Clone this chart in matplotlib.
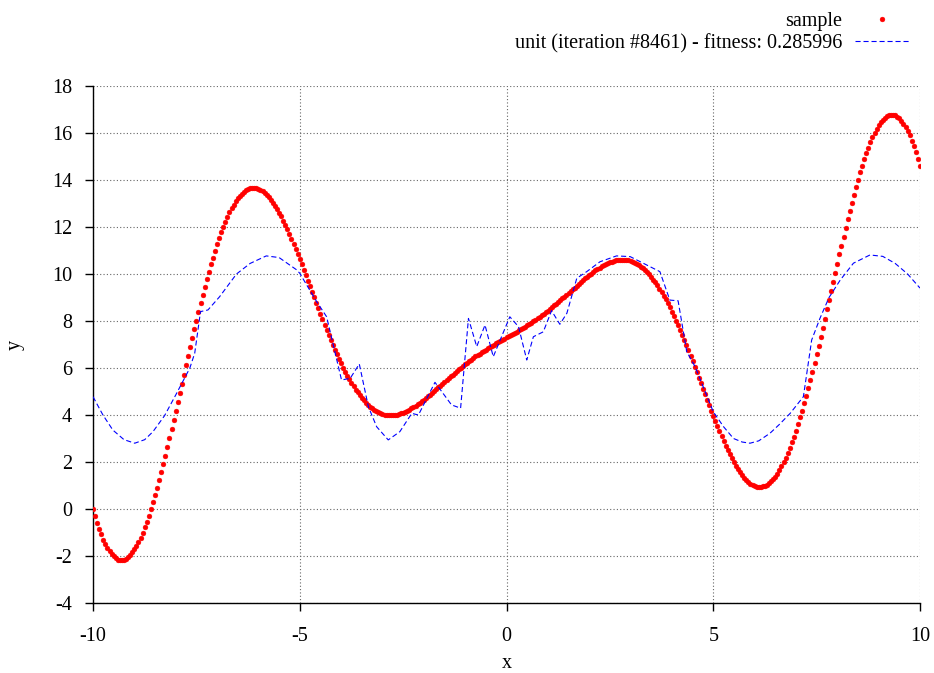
import numpy as np
import matplotlib
matplotlib.use("Agg")
import matplotlib.pyplot as plt

plt.rcParams['font.family'] = ['Liberation Serif', 'DejaVu Serif']
plt.rcParams['font.size'] = 14.5
plt.rcParams['axes.unicode_minus'] = False

# sample points (x step 0.05)
sample_x = np.round(np.arange(-200, 201) * 0.05, 2)
sample_y = [
    0.00, -0.31, -0.59, -0.85, -1.08, -1.30, -1.49, -1.66, -1.80, -1.93,
    -2.02, -2.10, -2.15, -2.17, -2.18, -2.16, -2.11, -2.05, -1.96, -1.85,
    -1.72, -1.57, -1.40, -1.22, -1.01, -0.78, -0.54, -0.28, -0.01, 0.28,
    0.59, 0.90, 1.23, 1.57, 1.91, 2.27, 2.64, 3.01, 3.39, 3.77,
    4.16, 4.55, 4.94, 5.33, 5.72, 6.11, 6.50, 6.89, 7.27, 7.66,
    8.02, 8.40, 8.75, 9.11, 9.44, 9.78, 10.09, 10.41, 10.70, 10.99,
    11.26, 11.52, 11.77, 12.00, 12.22, 12.43, 12.62, 12.79, 12.95, 13.09,
    13.22, 13.33, 13.42, 13.50, 13.57, 13.61, 13.64, 13.66, 13.66, 13.65,
    13.62, 13.58, 13.52, 13.45, 13.37, 13.27, 13.16, 13.04, 12.91, 12.76,
    12.61, 12.45, 12.27, 12.09, 11.90, 11.71, 11.50, 11.29, 11.08, 10.86,
    10.64, 10.41, 10.18, 9.95, 9.71, 9.48, 9.24, 9.01, 8.77, 8.54,
    8.31, 8.08, 7.85, 7.63, 7.41, 7.19, 6.98, 6.78, 6.58, 6.39,
    6.20, 6.02, 5.84, 5.68, 5.52, 5.37, 5.22, 5.08, 4.96, 4.84,
    4.72, 4.62, 4.52, 4.44, 4.36, 4.29, 4.22, 4.17, 4.12, 4.08,
    4.05, 4.02, 4.01, 4.00, 3.99, 3.99, 4.00, 4.02, 4.04, 4.07,
    4.10, 4.14, 4.18, 4.23, 4.28, 4.33, 4.39, 4.45, 4.51, 4.58,
    4.65, 4.72, 4.79, 4.87, 4.94, 5.02, 5.10, 5.18, 5.25, 5.33,
    5.41, 5.49, 5.57, 5.64, 5.72, 5.80, 5.87, 5.94, 6.02, 6.09,
    6.16, 6.23, 6.29, 6.36, 6.42, 6.49, 6.55, 6.61, 6.67, 6.72,
    6.78, 6.84, 6.89, 6.94, 7.00, 7.05, 7.10, 7.15, 7.20, 7.25,
    7.30, 7.35, 7.40, 7.45, 7.50, 7.55, 7.60, 7.66, 7.71, 7.76,
    7.82, 7.88, 7.93, 7.99, 8.05, 8.11, 8.18, 8.24, 8.31, 8.37,
    8.44, 8.51, 8.58, 8.66, 8.73, 8.80, 8.88, 8.96, 9.03, 9.11,
    9.19, 9.27, 9.35, 9.42, 9.50, 9.58, 9.66, 9.73, 9.81, 9.88,
    9.95, 10.02, 10.09, 10.15, 10.21, 10.27, 10.32, 10.37, 10.42, 10.46,
    10.50, 10.53, 10.56, 10.58, 10.60, 10.61, 10.61, 10.60, 10.59, 10.58,
    10.55, 10.52, 10.48, 10.43, 10.38, 10.31, 10.24, 10.16, 10.08, 9.98,
    9.88, 9.76, 9.64, 9.52, 9.38, 9.23, 9.08, 8.92, 8.76, 8.58,
    8.40, 8.21, 8.02, 7.82, 7.62, 7.41, 7.19, 6.97, 6.75, 6.52,
    6.29, 6.06, 5.83, 5.59, 5.36, 5.12, 4.89, 4.65, 4.42, 4.19,
    3.96, 3.74, 3.52, 3.31, 3.10, 2.89, 2.70, 2.51, 2.33, 2.15,
    1.99, 1.84, 1.69, 1.56, 1.44, 1.33, 1.23, 1.15, 1.08, 1.02,
    0.98, 0.95, 0.94, 0.94, 0.96, 0.99, 1.03, 1.10, 1.18, 1.27,
    1.38, 1.51, 1.65, 1.81, 1.98, 2.17, 2.38, 2.60, 2.83, 3.08,
    3.34, 3.61, 3.90, 4.19, 4.51, 4.82, 5.16, 5.49, 5.85, 6.20,
    6.58, 6.94, 7.33, 7.71, 8.10, 8.49, 8.88, 9.27, 9.66, 10.05,
    10.44, 10.83, 11.21, 11.59, 11.96, 12.33, 12.69, 13.03, 13.37, 13.70,
    14.01, 14.32, 14.61, 14.88, 15.14, 15.38, 15.61, 15.82, 16.00, 16.17,
    16.32, 16.45, 16.56, 16.65, 16.71, 16.76, 16.78, 16.77, 16.75, 16.70,
    16.62, 16.53, 16.40, 16.26, 16.09, 15.90, 15.68, 15.45, 15.19, 14.91,
    14.60,
]

# the evolved unit
unit_x = [-10.0, -9.76, -9.52, -9.25, -8.99, -8.75, -8.55, -8.27, -8.0, -7.66,
          -7.54, -7.40, -7.22, -6.94, -6.53, -6.2, -5.81, -5.5, -5.07, -5.0,
          -4.59, -4.35, -3.99, -3.78, -3.56, -3.34, -3.14, -2.86, -2.58, -2.29,
          -2.13, -1.73, -1.33, -1.11, -0.92, -0.72, -0.52, -0.32, 0.08, 0.29,
          0.49, 0.65, 0.89, 1.09, 1.29, 1.46, 1.70, 1.94, 2.26, 2.66,
          2.99, 3.71, 3.95, 4.15, 4.36, 4.56, 5.0, 5.25, 5.49, 5.7,
          5.89, 6.1, 6.37, 6.6, 6.86, 7.18, 7.38, 7.58, 7.8, 8.07,
          8.39, 8.79, 9.1, 9.4, 9.7, 10.0]
unit_y = [4.78, 4.0, 3.36, 2.95, 2.8, 2.95, 3.29, 3.97, 4.85, 5.99,
          6.63, 8.40, 8.47, 9.03, 10.0, 10.45, 10.77, 10.7, 10.17, 10.03,
          8.82, 8.18, 5.49, 5.56, 6.17, 4.35, 3.5, 2.94, 3.29, 4.07,
          4.0, 5.39, 4.43, 4.29, 8.11, 6.91, 7.83, 6.48, 8.18, 7.76,
          6.34, 7.33, 7.54, 8.44, 7.86, 8.33, 9.82, 10.1, 10.52, 10.77,
          10.74, 10.1, 8.89, 8.86, 6.69, 6.06, 4.14, 3.5, 3.0, 2.85,
          2.8, 2.9, 3.22, 3.6, 4.07, 4.78, 7.19, 8.11, 9.0, 9.74,
          10.46, 10.81, 10.75, 10.45, 10.0, 9.4]

unit_label = "unit (iteration #8461) - fitness: 0.285996"

fig = plt.figure(figsize=(9.34, 6.73), dpi=100)
ax = fig.add_axes([93 / 934, 1 - 603 / 673, 827 / 934, 517 / 673])

h_sample, = ax.plot(sample_x, sample_y, ls='none', marker='o', ms=3.5,
                    mfc='red', mec='red', mew=0.3, zorder=3)
h_unit, = ax.plot(unit_x, unit_y, color='blue', lw=0.8,
                  dashes=(4.6, 2.6), zorder=4)

ax.set_xlim(-10, 10)
ax.set_ylim(-4, 18)
ax.set_xticks(range(-10, 11, 5))
ax.set_yticks(range(-4, 19, 2))
ax.grid(True, color='0.4', ls=(0, (1, 2)), lw=0.8)
ax.set_axisbelow(True)

for side in ['top', 'right']:
    ax.spines[side].set_visible(False)
ax.spines['left'].set_linewidth(1.0)
ax.spines['bottom'].set_linewidth(1.0)
ax.tick_params(direction='out', length=6, width=1.0)
ax.tick_params(axis='x', pad=11)
ax.tick_params(axis='y', pad=9)

ax.set_xlabel("x")
ax.set_ylabel("y")
ax.xaxis.set_label_coords(0.5, -0.098)
ax.yaxis.set_label_coords(-0.082, 0.5)

# legend entries: text right aligned, key to the right
fig.legend([h_sample], ["sample"], loc='upper right',
           bbox_to_anchor=(909 / 934, 1 - 12 / 673), markerfirst=False,
           frameon=False, handlelength=2.7, handletextpad=0.6,
           borderpad=0, borderaxespad=0, numpoints=1)
fig.legend([h_unit], [unit_label], loc='upper right',
           bbox_to_anchor=(909 / 934, 1 - 34 / 673), markerfirst=False,
           frameon=False, handlelength=2.7, handletextpad=0.6,
           borderpad=0, borderaxespad=0)

fig.savefig("out.png", dpi=100)
